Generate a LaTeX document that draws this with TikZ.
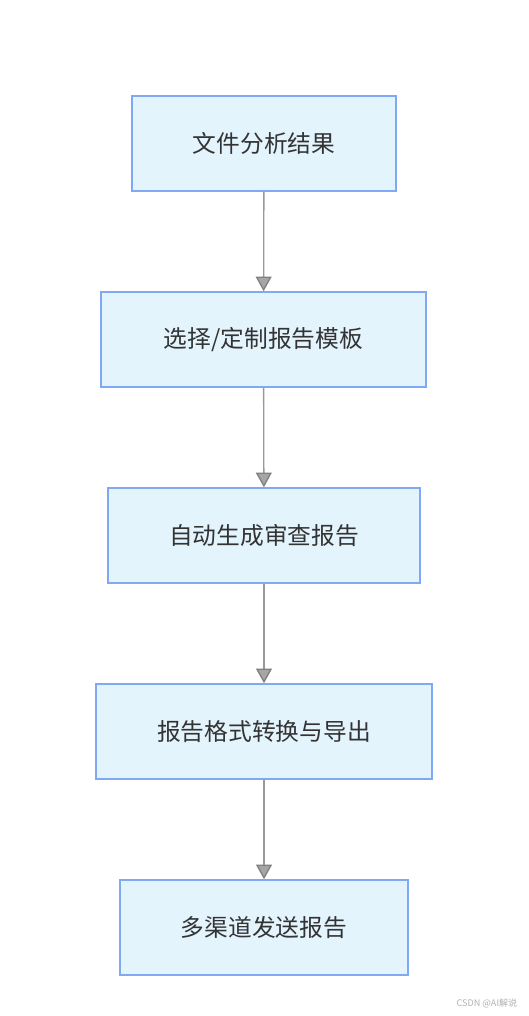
\documentclass[tikz,border=0pt]{standalone}
\usepackage{fontspec}
\newfontfamily\cjk{Noto Sans CJK SC}
\usetikzlibrary{arrows.meta}
\definecolor{boxfill}{HTML}{E3F4FD}
\definecolor{boxdraw}{HTML}{7FA8F5}
\definecolor{linegray}{HTML}{999999}
\definecolor{headgray}{HTML}{A6A6A6}
\definecolor{txt}{HTML}{333333}
\tikzset{
  stepbox/.style={draw=boxdraw, fill=boxfill, line width=1.2pt, minimum height=71.25pt, inner sep=0pt, font=\cjk\fontsize{17.8}{20}\selectfont, text=txt},
  flow/.style={draw=linegray, line width=1pt, -{Triangle[width=12pt,length=11pt,fill=headgray,color=gray]}}
}
\begin{document}
\begin{tikzpicture}[x=0.75pt,y=-0.75pt]
\useasboundingbox (0,0) rectangle (528,1016);
\fill[white] (0,0) rectangle (528,1016);
\node[stepbox, minimum width=198pt] (a) at (264,143.5) {文件分析结果};
\node[stepbox, minimum width=243.75pt] (b) at (263.5,339.5) {选择/定制报告模板};
\node[stepbox, minimum width=234pt] (c) at (264,535.5) {自动生成审查报告};
\node[stepbox, minimum width=252pt] (d) at (264,731.5) {报告格式转换与导出};
\node[stepbox, minimum width=216pt] (e) at (264,927.5) {多渠道发送报告};
\draw[flow] (a) -- (b);
\draw[flow] (b) -- (c);
\draw[flow] (c) -- (d);
\draw[flow] (d) -- (e);
\node[font=\cjk\fontsize{6.8}{8}\selectfont, text=gray!60, anchor=east] (w) at (522,1003) {CSDN @AI解说};
\end{tikzpicture}
\end{document}
